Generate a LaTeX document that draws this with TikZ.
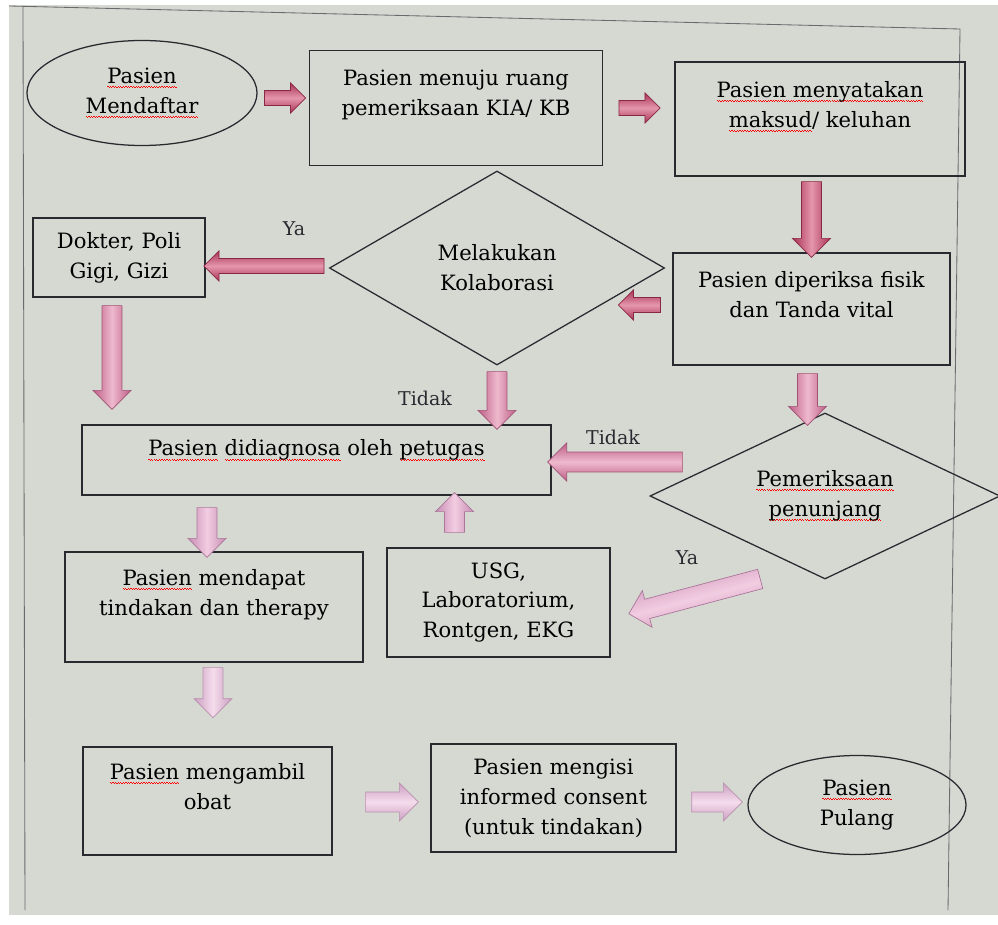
\documentclass[tikz,border=0pt]{standalone}
\usepackage{fontspec}
\setmainfont{DejaVu Serif}
\usetikzlibrary{shapes.geometric,shapes.arrows,calc}

\definecolor{screen}{RGB}{214,216,210}
\definecolor{ink}{RGB}{40,42,48}
\definecolor{redA}{RGB}{170,50,85}
\definecolor{redB}{RGB}{228,150,172}
\definecolor{roseA}{RGB}{190,95,135}
\definecolor{roseB}{RGB}{238,185,205}
\definecolor{pinkA}{RGB}{200,140,180}
\definecolor{pinkB}{RGB}{242,205,225}
\definecolor{paleA}{RGB}{205,160,195}
\definecolor{paleB}{RGB}{244,220,235}

\newcommand\spell[1]{\setbox0\hbox{#1}\rlap{\lower3.2pt\hbox to\wd0{\color{red}\xleaders\hbox{\raise.7pt\hbox{\vrule width.9pt height.55pt depth0pt}\vrule width.9pt height.55pt depth0pt}\hfil}}\box0\relax}
\newcommand\fat[3][]{\path let \p1=#2, \p2=#3, \n1={veclen(\x2-\x1,\y2-\y1)}, \n2={atan2(\y2-\y1,\x2-\x1)} in (\p1) -- (\p2) node[midway, sloped, allow upside down, fatarrow, minimum height=\n1, #1, shading angle=\n2] {};}

\begin{document}
\begin{tikzpicture}[x=0.025cm,y=-0.025cm]
  \tikzstyle{box}=[rectangle,draw=ink,line width=0.9pt,inner sep=0pt,align=center,text=black,font=\fontsize{15}{21.3}\selectfont]
  \tikzstyle{oval}=[box,ellipse]
  \tikzstyle{decision}=[box,diamond,aspect=2]
  \tikzstyle{answer}=[font=\fontsize{13.5}{16}\selectfont,text=ink]
  \tikzstyle{pageline}=[draw=ink!70,line width=0.6pt]
  \tikzstyle{fatarrow}=[single arrow,line width=0.5pt,inner xsep=0pt,inner ysep=0.24cm,single arrow head extend=0.225cm,outer sep=0pt]
  \tikzstyle{thinarrow}=[inner ysep=0.18cm,single arrow head extend=0.19cm]
  \tikzstyle{redarrow}=[draw=redA!80!black,top color=redA,bottom color=redA,middle color=redB]
  \tikzstyle{rosearrow}=[draw=roseA!85!black,top color=roseA,bottom color=roseA,middle color=roseB]
  \tikzstyle{pinkarrow}=[draw=pinkA!85!black,top color=pinkA,bottom color=pinkA,middle color=pinkB]
  \tikzstyle{palearrow}=[draw=paleA!90!black,top color=paleA,bottom color=paleA,middle color=paleB]
  \useasboundingbox (0,0) rectangle (998,925);
  \fill[white] (0,0) rectangle (998,925);
  \fill[screen] (9,5) rectangle (998,915);
  \draw[pageline] (9,6) -- (960,29) -- (948,910);
  \draw[pageline] (23,6) -- (25,910);

  \node[oval,minimum width=5.75cm,minimum height=2.625cm] (mend) at (142,93) {\spell{Pasien}\\ \spell{Mendaftar}};
  \node[box,minimum width=7.325cm,minimum height=2.875cm] (kia) at (456,108) {Pasien menuju ruang\\ pemeriksaan KIA/ KB\\ \mbox{}};
  \node[box,minimum width=7.25cm,minimum height=2.85cm] (keluh) at (820,119) {\spell{Pasien menyatakan}\\ \spell{maksud}/ keluhan\\ \mbox{}};
  \node[decision,minimum width=8.375cm,minimum height=4.85cm] (kolab) at (497,268) {Melakukan\\ Kolaborasi};
  \node[box,minimum width=4.3cm,minimum height=1.975cm] (dokter) at (119,257.5) {Dokter, Poli\\ Gigi, Gizi};
  \node[box,minimum width=6.925cm,minimum height=2.8cm] (fisik) at (811.5,309) {Pasien diperiksa fisik\\ dan Tanda vital\\ \mbox{}};
  \node[box,minimum width=11.725cm,minimum height=1.75cm] (diag) at (316.5,460) {\spell{Pasien} \spell{didiagnosa} oleh \spell{petugas}\\[-4pt] \mbox{}};
  \node[decision,minimum width=8.75cm,minimum height=4.15cm] (pen) at (825,496) {\spell{Pemeriksaan}\\ \spell{penunjang}};
  \node[box,minimum width=7.45cm,minimum height=2.75cm] (terapi) at (214,607) {\spell{Pasien} mendapat\\ tindakan dan therapy\\ \mbox{}};
  \node[box,minimum width=5.575cm,minimum height=2.725cm] (usg) at (498.5,602.5) {USG,\\ Laboratorium,\\ Rontgen, EKG};
  \node[box,minimum width=6.225cm,minimum height=2.7cm] (obat) at (207.5,801) {\spell{Pasien} mengambil\\ obat\\ \mbox{}};
  \node[box,minimum width=6.125cm,minimum height=2.7cm] (consent) at (553.5,798) {Pasien mengisi\\ informed consent\\ (untuk tindakan)};
  \node[oval,minimum width=5.45cm,minimum height=2.475cm] (pulang) at (857,805) {\spell{Pasien}\\ Pulang};

  \node[answer] (ya1) at (294,229) {Ya};
  \node[answer] (tidak1) at (425,398) {Tidak};
  \node[answer] (tidak2) at (613,437) {Tidak};
  \node[answer] (ya2) at (687,558) {Ya};

  \fat[thinarrow,redarrow]{([shift={(3,5)}]mend.east)}{([shift={(-7,-10)}]kia.west)}
  \fat[thinarrow,redarrow]{([shift={(12,0)}]kia.east)}{([shift={(-18,-11)}]keluh.west)}
  \fat[redarrow]{(keluh.south -| fisik.north)}{(fisik.north)}
  \fat[thinarrow,redarrow]{([shift={(-8,-4)}]fisik.west)}{([shift={(-43,37)}]kolab.east)}
  \fat[thinarrow,redarrow]{([shift={(-1,-2)}]kolab.west)}{([shift={(2,8.5)}]dokter.east)}
  \fat[rosearrow]{([shift={(-7,3)}]dokter.south)}{([shift={(-7,-20)}]dokter.south |- diag.north)}
  \fat[rosearrow]{([shift={(0,1)}]kolab.south)}{(kolab.south |- diag.north)}
  \fat[rosearrow]{([shift={(-4,3)}]fisik.south)}{([shift={(-4,8)}]fisik.south |- pen.north)}
  \fat[rosearrow]{([shift={(38,-34)}]pen.west)}{([shift={(1,2)}]diag.east)}
  \fat[pinkarrow]{([shift={(-44,-10)}]usg.north)}{([shift={(-44,2)}]usg.north |- diag.south)}
  \fat[pinkarrow]{([shift={(-7,7)}]terapi.north |- diag.south)}{([shift={(-7,1)}]terapi.north)}
  \fat[pinkarrow]{([shift={(-60,-2)}]pen.south)}{([shift={(23,10)}]usg.east)}
  \fat[palearrow]{([shift={(-1,0)}]terapi.south)}{([shift={(-1,50)}]terapi.south)}
  \fat[palearrow]{([shift={(28,1)}]obat.east)}{([shift={(-17,4)}]consent.west)}
  \fat[palearrow]{([shift={(10,4)}]consent.east)}{([shift={(-10,-3)}]pulang.west)}
\end{tikzpicture}
\end{document}
